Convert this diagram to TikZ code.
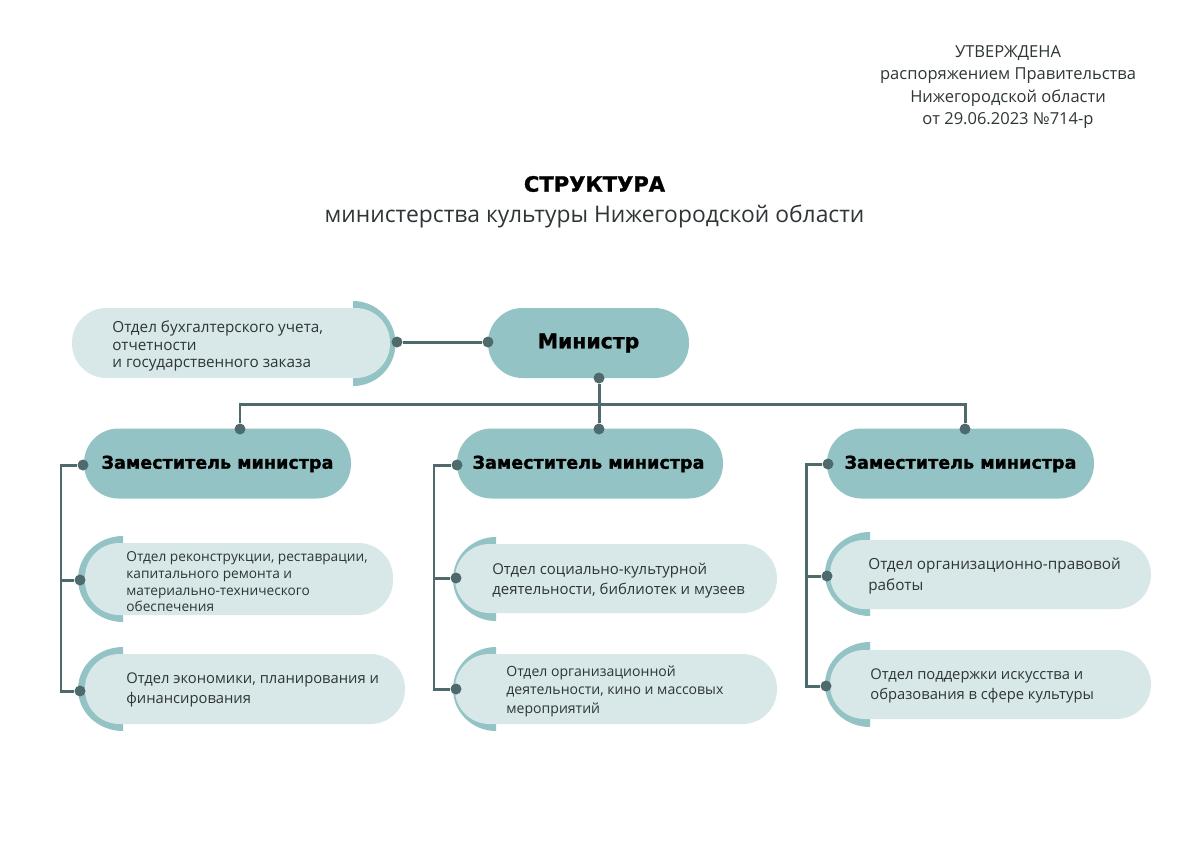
\documentclass[tikz,border=0pt]{standalone}
\usepackage{fontspec}
\setmainfont{Open Sans}
\newfontfamily\heavyfont{DejaVu Sans}[BoldFont={DejaVu Sans Bold},BoldFeatures={FakeBold=1.2}]
\usepackage{xcolor}
\definecolor{pillDark}{HTML}{93C3C5}
\definecolor{pillLight}{HTML}{D8E8E8}
\definecolor{lineDark}{HTML}{4F6A6C}
\definecolor{textDark}{HTML}{2E3536}
\tikzset{
  pill/.style={rounded corners=34.5*0.02cm, inner sep=0pt, fill=#1},
  dot/.style={circle, inner sep=0pt, minimum size=0.22cm, fill=lineDark},
  link/.style={draw=lineDark, line width=1.7pt},
  crescent/.style={fill=pillDark},
  otdeltext/.style 2 args={anchor=west, align=left, inner sep=0pt, text=textDark,
    font=\fontsize{#1}{#2}\selectfont},
  head/.style={inner sep=0pt, text=black, font=\heavyfont\bfseries\fontsize{#1}{#1}\selectfont},
}
\begin{document}
\begin{tikzpicture}[x=0.02cm, y=-0.02cm]
\useasboundingbox (0,0) rectangle (1200,840);

% header
\node[align=center, inner sep=0pt, text=textDark, font=\fontsize{9.4}{12.75}\selectfont] (approved) at (1008,87)
  {УТВЕРЖДЕНА\\распоряжением Правительства\\Нижегородской области\\от 29.06.2023 №714-р};
\node[head=12] (title) at (594.5,184) {СТРУКТУРА};
\node[inner sep=0pt, text=textDark, font=\fontsize{13}{14}\selectfont] (subtitle) at (594.5,216)
  {министерства культуры Нижегородской области};

% crescents first, the pills lie over them
\fill[crescent] (353,301) arc (-90:90:42.5 and 42.5) -- cycle;
\fill[crescent] (123,536) arc (270:90:45 and 43) -- cycle;
\fill[crescent] (123,647) arc (270:90:45 and 42) -- cycle;
\fill[crescent] (496,537) arc (270:90:43 and 42) -- cycle;
\fill[crescent] (496,647) arc (270:90:43 and 42) -- cycle;
\fill[crescent] (870,532) arc (270:90:45 and 42) -- cycle;
\fill[crescent] (870,642) arc (270:90:45 and 42.5) -- cycle;

% pills
\node[pill=pillLight, minimum width=318*0.02cm, minimum height=70*0.02cm] (buh) at (231,343) {};
\node[pill=pillDark, minimum width=201*0.02cm, minimum height=70*0.02cm] (minister) at (588.5,343) {};
\node[pill=pillDark, minimum width=267*0.02cm, minimum height=70*0.02cm] (zam1) at (217.5,463.5) {};
\node[pill=pillDark, minimum width=266*0.02cm, minimum height=70*0.02cm] (zam2) at (590,463.5) {};
\node[pill=pillDark, minimum width=267*0.02cm, minimum height=70*0.02cm] (zam3) at (960.5,463.5) {};
\node[pill=pillLight, minimum width=308*0.02cm, minimum height=72*0.02cm] (otd1) at (239,579) {};
\node[pill=pillLight, minimum width=320*0.02cm, minimum height=70*0.02cm] (otd2) at (245,689) {};
\node[pill=pillLight, minimum width=322*0.02cm, minimum height=69*0.02cm] (otd3) at (616,578.5) {};
\node[pill=pillLight, minimum width=322*0.02cm, minimum height=70*0.02cm] (otd4) at (616,689) {};
\node[pill=pillLight, minimum width=321*0.02cm, minimum height=69*0.02cm] (otd5) at (990.5,574.5) {};
\node[pill=pillLight, minimum width=321*0.02cm, minimum height=69*0.02cm] (otd6) at (990.5,684.5) {};

% texts
\node[otdeltext={8.7}{10.2}] (buhtext) at (112,346) {Отдел бухгалтерского учета,\\отчетности\\и государственного заказа};
\node[head=11.6] (ministertext) at (588.5,343) {Министр};
\node[head=10] (zam1text) at (217.5,464) {Заместитель министра};
\node[head=10] (zam2text) at (588.5,464) {Заместитель министра};
\node[head=10] (zam3text) at (960.5,464) {Заместитель министра};
\node[otdeltext={7.8}{9.5}] (otd1text) at (126,582) {Отдел реконструкции, реставрации,\\капитального ремонта и\\материально-технического\\обеспечения};
\node[otdeltext={8.4}{11.5}] (otd2text) at (126,690) {Отдел экономики, планирования и\\финансирования};
\node[otdeltext={8.5}{11.5}] (otd3text) at (492,581) {Отдел социально-культурной\\деятельности, библиотек и музеев};
\node[otdeltext={8}{10.5}] (otd4text) at (506,691) {Отдел организационной\\деятельности, кино и массовых\\мероприятий};
\node[otdeltext={8.7}{12}] (otd5text) at (868,576.5) {Отдел организационно-правовой\\работы};
\node[otdeltext={8.4}{11.5}] (otd6text) at (870,686) {Отдел поддержки искусства и\\образования в сфере культуры};

% dots
\node[dot] (buhdot) at (397,342) {};
\node[dot] (minleft) at (488,342) {};
\node[dot] (mindown) at (599,378) {};
\node[dot] (zam1up) at (240,429) {};
\node[dot] (zam2up) at (599,429) {};
\node[dot] (zam3up) at (965,429) {};
\node[dot] (zam1left) at (83,465) {};
\node[dot] (zam2left) at (457,465) {};
\node[dot] (zam3left) at (828,464) {};
\node[dot] (otd1dot) at (80,580) {};
\node[dot] (otd2dot) at (80,691) {};
\node[dot] (otd3dot) at (456,578) {};
\node[dot] (otd4dot) at (456,689) {};
\node[dot] (otd5dot) at (827,576) {};
\node[dot] (otd6dot) at (826,686) {};
\coordinate (fork) at (599,404);
\coordinate (rail1) at (61,465);
\coordinate (rail2) at (434,465);
\coordinate (rail3) at (806,464);

% connectors
\draw[link] (buhdot) -- (minleft);
\draw[link] (mindown) -- (zam2up);
\draw[link] (zam1up) |- (fork) -| (zam3up);
\draw[link] (zam1left) -- (rail1) |- (otd2dot);
\draw[link] (rail1 |- otd1dot) -- (otd1dot);
\draw[link] (zam2left) -- (rail2) |- (otd4dot);
\draw[link] (rail2 |- otd3dot) -- (otd3dot);
\draw[link] (zam3left) -- (rail3) |- (otd6dot);
\draw[link] (rail3 |- otd5dot) -- (otd5dot);
\end{tikzpicture}
\end{document}
